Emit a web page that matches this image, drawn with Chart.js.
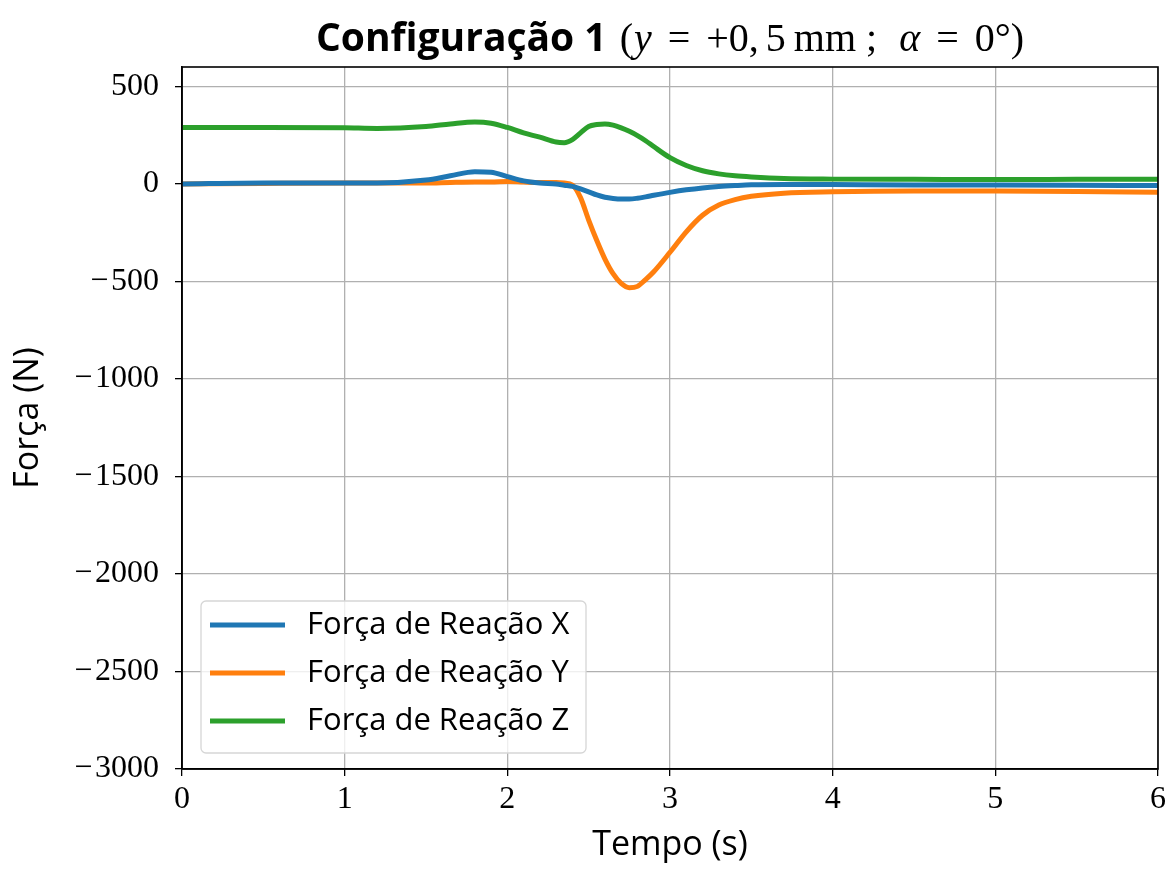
<!DOCTYPE html>
<html lang="pt">
<head>
<meta charset="UTF-8">
<title>Configuração 1</title>
<style>
    body { margin: 0; background: #fff; }
    #wrap { width: 1171px; height: 870px; }
</style>
</head>
<body>
<div id="wrap"><canvas id="grafico" width="1171" height="870"></canvas></div>
<script src="https://cdn.jsdelivr.net/npm/chart.js"></script>
<script>
// tempos (s) e forças de reação (N)
const tempo = [0, 0.5, 1.0, 1.2, 1.5, 1.65, 1.8, 1.9, 2.0, 2.1, 2.2, 2.3, 2.35, 2.4, 2.45, 2.5, 2.55, 2.6, 2.65, 2.7,
    2.75, 2.8, 2.85, 2.9, 3.0, 3.1, 3.2, 3.3, 3.4, 3.5, 3.7, 4.0, 4.5, 5.0, 5.5, 6.0];
const forcaX = [0, 5, 5, 5, 20, 42, 63, 60, 38, 16, 5, 0, -6, -12, -25, -40, -56, -68, -74, -77,
    -77, -73, -66, -58, -43, -30, -20, -13, -8, -4, -2, -3, -5, -5, -6, -8];
const forcaY = [0, 3, 5, 5, 5, 8, 10, 10, 13, 10, 8, 8, 5, -5, -70, -185, -290, -385, -460, -510,
    -532, -525, -490, -450, -350, -245, -160, -108, -80, -63, -47, -40, -36, -36, -38, -42];
const forcaZ = [290, 290, 288, 285, 295, 308, 318, 312, 290, 262, 240, 215, 212, 228, 262, 295, 305, 308, 302, 288,
    270, 248, 222, 192, 135, 95, 68, 52, 42, 36, 28, 25, 24, 23, 24, 25];

const nomes = ['Força de Reação X', 'Força de Reação Y', 'Força de Reação Z'];
const cores = ['#1f77b4', '#ff7f0e', '#2ca02c'];
const ticksX = [0, 1, 2, 3, 4, 5, 6];
const ticksY = [-3000, -2500, -2000, -1500, -1000, -500, 0, 500];

const serif = '"Liberation Serif", "DejaVu Serif", serif';
const sans = '"Open Sans", "DejaVu Sans", sans-serif';

function serie(valores) {
    return tempo.map((t, i) => ({ x: t, y: valores[i] }));
}

// título: parte em negrito + expressão matemática com espaçamento largo
const titulo = {
    id: 'titulo',
    afterDraw(chart) {
        const ctx = chart.ctx;
        const tam = 40;
        const partes = [
            { txt: 'Configuração 1', font: 'bold 39px ' + sans, gap: 13 },
            { txt: '(', font: tam + 'px ' + serif, gap: 1 },
            { txt: 'y', font: 'italic ' + tam + 'px ' + serif, gap: 16 },
            { txt: '=', font: tam + 'px ' + serif, gap: 16 },
            { txt: '+0,', font: tam + 'px ' + serif, gap: 7 },
            { txt: '5', font: tam + 'px ' + serif, gap: 8 },
            { txt: 'mm', font: tam + 'px ' + serif, gap: 10 },
            { txt: ';', font: tam + 'px ' + serif, gap: 22 },
            { txt: 'α', font: 'italic ' + tam + 'px ' + serif, gap: 16 },
            { txt: '=', font: tam + 'px ' + serif, gap: 16 },
            { txt: '0°)', font: tam + 'px ' + serif, gap: 0 }
        ];
        ctx.save();
        let total = 0;
        partes.forEach(p => { ctx.font = p.font; p.w = ctx.measureText(p.txt).width; total += p.w + p.gap; });
        const area = chart.chartArea;
        let x = (area.left + area.right) / 2 - total / 2;
        ctx.fillStyle = '#000';
        ctx.textBaseline = 'middle';
        partes.forEach(p => { ctx.font = p.font; ctx.fillText(p.txt, x, 40); x += p.w + p.gap; });
        ctx.restore();
    }
};

// moldura completa do gráfico
const moldura = {
    id: 'moldura',
    afterDatasetsDraw(chart) {
        const a = chart.chartArea, ctx = chart.ctx;
        ctx.save();
        ctx.strokeStyle = '#000';
        ctx.lineWidth = 1.6;
        ctx.strokeRect(a.left, a.top, a.right - a.left, a.bottom - a.top);
        ctx.restore();
    }
};

// legenda dentro da área do gráfico, canto inferior esquerdo
const legenda = {
    id: 'legenda',
    afterDraw(chart) {
        const a = chart.chartArea, ctx = chart.ctx;
        const x0 = a.left + 19, y0 = a.bottom - 168, w = 385, h = 152;
        ctx.save();
        ctx.fillStyle = 'rgba(255,255,255,0.8)';
        ctx.strokeStyle = '#d6d6d6';
        ctx.lineWidth = 1.3;
        ctx.beginPath();
        ctx.roundRect(x0, y0, w, h, 5);
        ctx.fill();
        ctx.stroke();
        ctx.font = '31px ' + sans;
        ctx.textBaseline = 'middle';
        chart.data.datasets.forEach((ds, i) => {
            const y = y0 + 24 + i * 48;
            ctx.strokeStyle = ds.borderColor;
            ctx.lineWidth = 5;
            ctx.beginPath();
            ctx.moveTo(x0 + 9, y);
            ctx.lineTo(x0 + 84, y);
            ctx.stroke();
            ctx.fillStyle = '#000';
            ctx.fillText(ds.label, x0 + 106, y);
        });
        ctx.restore();
    }
};

new Chart(document.getElementById('grafico'), {
    type: 'line',
    data: {
        datasets: [forcaX, forcaY, forcaZ].map((v, i) => ({
            label: nomes[i],
            data: serie(v),
            borderColor: cores[i],
            backgroundColor: cores[i],
            borderWidth: 5,
            pointRadius: 0,
            cubicInterpolationMode: 'monotone',
            fill: false
        }))
    },
    options: {
        responsive: false,
        animation: false,
        layout: { padding: { left: 0, top: 67, right: 13, bottom: 0 } },
        plugins: { legend: { display: false }, tooltip: { enabled: false } },
        scales: {
            x: {
                type: 'linear',
                min: 0, max: 6,
                afterBuildTicks: s => { s.ticks = ticksX.map(v => ({ value: v })); },
                afterFit: s => { s.height = 101; },
                grid: { color: '#b0b0b0', lineWidth: 1.3, tickColor: '#000', tickLength: 7 },
                border: { color: '#000', width: 1.6 },
                ticks: { color: '#000', font: { family: serif, size: 32 }, padding: 4, maxRotation: 0 },
                title: { display: true, text: 'Tempo (s)', color: '#000', font: { family: sans, size: 34 }, padding: { top: 0 } }
            },
            y: {
                min: -3000, max: 600,
                afterBuildTicks: s => { s.ticks = ticksY.map(v => ({ value: v })); },
                afterFit: s => { s.width = 182; },
                grid: { color: '#b0b0b0', lineWidth: 1.3, tickColor: '#000', tickLength: 7 },
                border: { color: '#000', width: 1.6 },
                ticks: {
                    color: '#000', font: { family: serif, size: 32 }, padding: 16,
                    callback: v => String(v).replace('-', '\u2212\u200a')
                },
                title: { display: true, text: 'Força (N)', color: '#000', font: { family: sans, size: 34 }, padding: { top: 8, bottom: 0 } }
            }
        }
    },
    plugins: [titulo, moldura, legenda]
});
</script>
</body>
</html>
